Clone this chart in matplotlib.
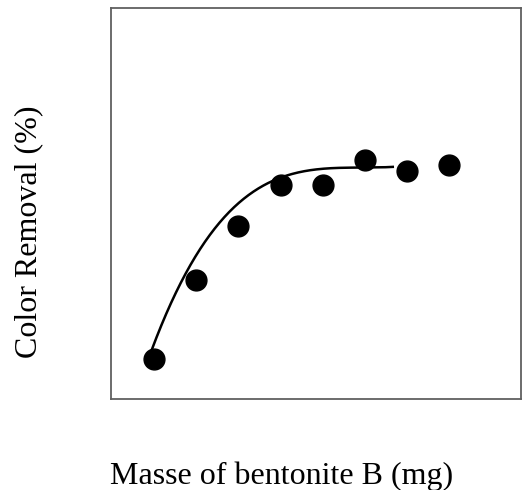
import numpy as np
import matplotlib
matplotlib.use("Agg")
import matplotlib.pyplot as plt

# Measured colour removal for increasing bentonite mass
mass_mg = [10, 20, 30, 40, 50, 60, 70, 80]
removal_pct = [10.2, 30.4, 44.3, 54.9, 54.7, 61.1, 58.5, 60.0]

# Trend curve samples (mass, removal)
curve_mass = [9.45, 17.35, 23.27, 29.6, 36.7, 44.6, 49.3, 59.5, 66.6]
curve_removal = [12.5, 32.2, 41.4, 50.1, 55.2, 58.1, 58.7, 59.4, 59.4]

plt.rcParams["font.family"] = ["Liberation Serif", "DejaVu Serif"]

fig = plt.figure(figsize=(5.22, 4.90), dpi=100)
ax = fig.add_axes([111 / 522, 1 - 399 / 490, 410 / 522, 390.5 / 490])

# smooth trend through the curve samples
coef = np.polyfit(curve_mass, curve_removal, 4)
xs = np.linspace(curve_mass[0], curve_mass[-1], 200)
ax.plot(xs, np.polyval(coef, xs), color="black", lw=1.8, zorder=2)

ax.plot(mass_mg, removal_pct, "o", color="black", markersize=15, zorder=3)

ax.set_xlim(-0.2, 97)
ax.set_ylim(0, 100)
ax.set_xticks([])
ax.set_yticks([])
for s in ax.spines.values():
    s.set_color("#606060")
    s.set_linewidth(1.3)

ax.set_xlabel("Masse of bentonite B (mg)", fontsize=23)
ax.set_ylabel("Color Removal (%)", fontsize=23)
ax.xaxis.set_label_coords(0.415, -0.159)
ax.yaxis.set_label_coords(-0.165, 0.429)

fig.savefig("out.png", dpi=100)
